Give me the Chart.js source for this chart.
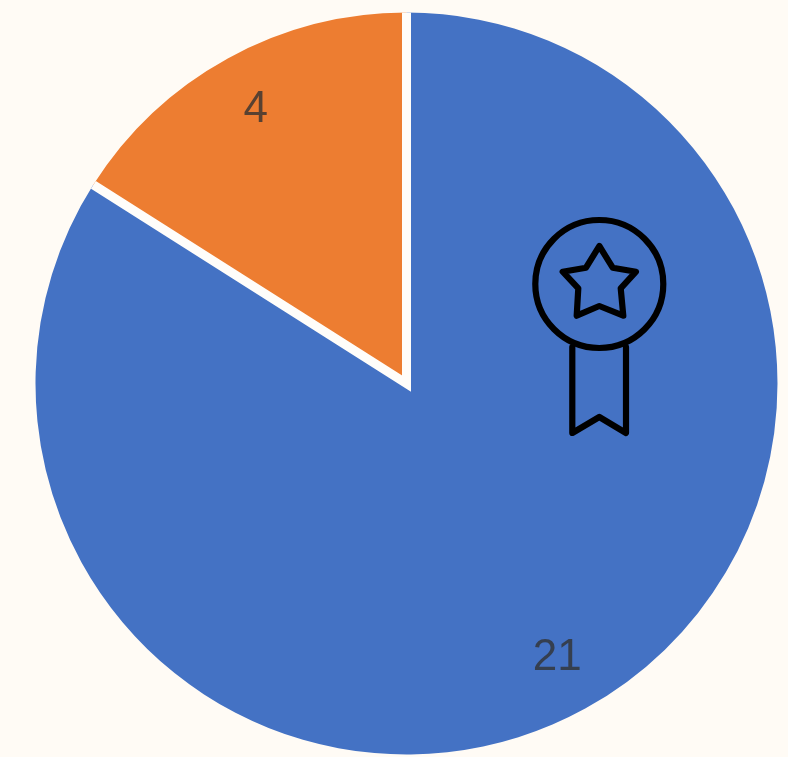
<!DOCTYPE html>
<html>
<head>
<meta charset="utf-8">
<style>
    html, body { margin: 0; background: #FFFBF5; overflow: hidden; }
    #wrap { position: relative; width: 788px; height: 757px; }
    #pie-chart { position: absolute; left: 0; top: 0; }
    #medal { position: absolute; left: 0; top: 0; pointer-events: none; }
</style>
<script src="https://cdn.jsdelivr.net/npm/chart.js@4"></script>
</head>
<body>
<div id="wrap">
    <canvas id="pie-chart" width="788" height="757"></canvas>
    <svg id="medal" width="788" height="757" fill="none" stroke="#000" stroke-width="6.2" stroke-linejoin="round" stroke-linecap="round">
        <circle cx="599.3" cy="284" r="64"/>
        <path d="M599.3 246 L612.7 267.7 L636 271.7 L620.7 288.3 L623.3 315.7 L599.3 306 L576.7 315.7 L578.3 288.3 L562.7 271.7 L586 267.7 Z"/>
        <path d="M572.3 347 V433 L599.3 417 L626 433 V347"/>
    </svg>
</div>
<script>
const categories = ['Yes', 'No'];
const values = [21, 4];
const colors = ['#4472C4', '#ED7D31'];

// white cuts between the slices, and the value labels near the rim
const sliceDecor = {
    id: 'sliceDecor',
    afterDatasetsDraw(chart) {
        const arcs = chart.getDatasetMeta(0).data;
        const ctx = chart.ctx;
        const cx = arcs[0].x, cy = arcs[0].y, r = arcs[0].outerRadius;

        ctx.save();
        ctx.beginPath();
        ctx.arc(cx, cy, r, 0, Math.PI * 2);
        ctx.clip();
        ctx.beginPath();
        ctx.moveTo(cx + Math.cos(arcs[0].startAngle) * r * 1.1, cy + Math.sin(arcs[0].startAngle) * r * 1.1);
        ctx.lineTo(cx, cy);
        ctx.lineTo(cx + Math.cos(arcs[1].startAngle) * r * 1.1, cy + Math.sin(arcs[1].startAngle) * r * 1.1);
        ctx.strokeStyle = '#FFFDFA';
        ctx.lineWidth = 9;
        ctx.lineJoin = 'miter';
        ctx.stroke();
        ctx.restore();

        ctx.save();
        ctx.font = '44px "Liberation Sans"';
        ctx.fillStyle = 'rgba(50, 50, 50, 0.8)';
        ctx.textAlign = 'center';
        ctx.textBaseline = 'middle';
        arcs.forEach((arc, i) => {
            const mid = (arc.startAngle + arc.endAngle) / 2;
            ctx.fillText(values[i], cx + Math.cos(mid) * r * 0.843, cy + Math.sin(mid) * r * 0.843);
        });
        ctx.restore();
    }
};

new Chart(document.getElementById('pie-chart'), {
    type: 'pie',
    data: {
        labels: categories,
        datasets: [{
            data: values,
            backgroundColor: colors,
            borderWidth: 0
        }]
    },
    options: {
        responsive: false,
        animation: false,
        layout: { padding: { left: 35.5, right: 10.5, top: 12.5, bottom: 2.5 } },
        plugins: {
            legend: { display: false },
            tooltip: { enabled: false }
        }
    },
    plugins: [sliceDecor]
});
</script>
</body>
</html>
